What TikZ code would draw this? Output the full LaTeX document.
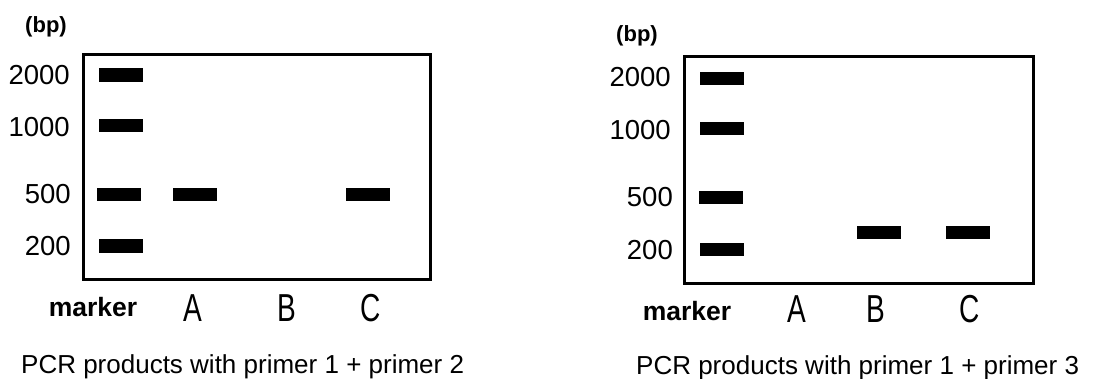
\documentclass[tikz,border=0pt]{standalone}
\usepackage{fontspec}
\setmainfont{Liberation Sans}
\newfontfamily\condfont[FakeStretch=0.72]{Liberation Sans}
\begin{document}
\begin{tikzpicture}[x=1pt,y=-1pt,
  gel/.style={draw=black,line width=3pt,fill=white},
  band/.style={fill=black,inner sep=0pt,minimum width=44pt,minimum height=13.5pt},
  sizelbl/.style={font=\fontsize{27.5}{30}\selectfont,inner sep=0pt,anchor=east},
  unitlbl/.style={font=\fontsize{22}{24}\bfseries,inner sep=0pt},
  markerlbl/.style={font=\fontsize{26.5}{28}\selectfont\bfseries,inner sep=0pt},
  lanelbl/.style={font=\fontsize{39}{40}\selectfont\condfont,inner sep=0pt},
  caption/.style={font=\fontsize{26}{28}\selectfont,inner sep=0pt,anchor=base west}]
\useasboundingbox (0,0) rectangle (1093,378);
% ---- left panel ----
\node[gel,minimum width=347pt,minimum height=225pt,inner sep=0pt,anchor=north west] (gelL) at (82,53) {};
\node[unitlbl] (bpL) at (46,27) {(bp)};
\node[sizelbl] (s2000L) at (70,75) {2000};
\node[sizelbl] (s1000L) at (70,127) {1000};
\node[sizelbl] (s500L) at (71,194) {500};
\node[sizelbl] (s200L) at (71,246) {200};
\node[band] (m2000L) at (121,75) {};
\node[band] (m1000L) at (121,125.5) {};
\node[band] (m500L) at (119,194.5) {};
\node[band] (m200L) at (121,246) {};
\node[band] (aL) at (194.5,194.5) {};
\node[band] (cL) at (368,194.5) {};
\node[markerlbl] (mkL) at (93,307) {marker};
\node[lanelbl] (laL) at (193,308) {A};
\node[lanelbl] (lbL) at (287,308) {B};
\node[lanelbl] (lcL) at (371,308) {C};
\node[caption] (capL) at (21,373) {PCR products with primer 1 + primer 2};
% ---- right panel ----
\node[gel,minimum width=349pt,minimum height=227pt,inner sep=0pt,anchor=north west] (gelR) at (683,55) {};
\node[unitlbl] (bpR) at (637,36) {(bp)};
\node[sizelbl] (s2000R) at (671,77) {2000};
\node[sizelbl] (s1000R) at (671,130) {1000};
\node[sizelbl] (s500R) at (673,197) {500};
\node[sizelbl] (s200R) at (673,250) {200};
\node[band] (m2000R) at (722,78.5) {};
\node[band] (m1000R) at (722,128.5) {};
\node[band] (m500R) at (721,197.5) {};
\node[band] (m200R) at (722,249.5) {};
\node[band] (bR) at (879,232.5) {};
\node[band] (cR) at (967.5,232.5) {};
\node[markerlbl] (mkR) at (687,311) {marker};
\node[lanelbl] (laR) at (797,309) {A};
\node[lanelbl] (lbR) at (876,309) {B};
\node[lanelbl] (lcR) at (970,309) {C};
\node[caption] (capR) at (636,374) {PCR products with primer 1 + primer 3};
\end{tikzpicture}
\end{document}
